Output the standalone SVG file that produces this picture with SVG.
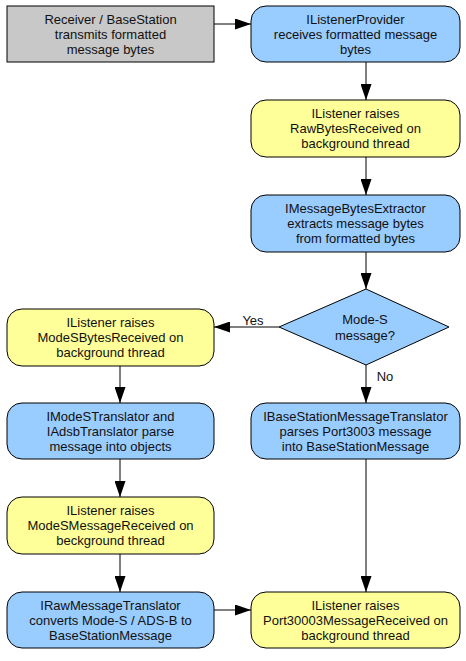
<svg xmlns="http://www.w3.org/2000/svg" width="466" height="661" viewBox="0 0 466 661">
<style>
.box{stroke:#000;stroke-width:1}
.grey{fill:#c8c8c8}
.blue{fill:#99ccff}
.yellow{fill:#ffff99}
text{font-family:"Liberation Sans",Arial,sans-serif;font-size:13px;fill:#111;text-anchor:middle}
.conn line{stroke:#000;stroke-width:1;marker-end:url(#arr)}
</style>
<defs>
<marker id="arr" markerUnits="userSpaceOnUse" markerWidth="16" markerHeight="11" refX="16" refY="5.5" orient="auto">
<path d="M0,0 L16,5.5 L0,11 z" fill="#000"/>
</marker>
</defs>
<rect width="466" height="661" fill="#fff"/>
<g class="conn" id="connectors">
<line x1="214" y1="24" x2="251" y2="24"/>
<line x1="366" y1="62" x2="366" y2="100"/>
<line x1="366" y1="157" x2="366" y2="195"/>
<line x1="366" y1="252" x2="366" y2="289"/>
<line x1="279" y1="327" x2="214" y2="327"/>
<line x1="366" y1="365" x2="366" y2="403"/>
<line x1="120" y1="366" x2="120" y2="403"/>
<line x1="120" y1="459" x2="120" y2="497"/>
<line x1="120" y1="554" x2="120" y2="592"/>
<line x1="214" y1="610" x2="251" y2="610"/>
<line x1="366" y1="459" x2="366" y2="592"/>
<text x="253" y="325">Yes</text>
<text x="385" y="381">No</text>
</g>
<g id="n1">
<rect class="box grey" x="7" y="6" width="207" height="56"/>
<text x="110.5" y="23.5">Receiver / BaseStation</text>
<text x="110.5" y="38.5">transmits formatted</text>
<text x="110.5" y="53.5">message bytes</text>
</g>
<g id="n2">
<rect class="box blue" x="251" y="6" width="209" height="56" rx="15"/>
<text x="355.5" y="23.5">IListenerProvider</text>
<text x="355.5" y="38.5">receives formatted message</text>
<text x="355.5" y="53.5">bytes</text>
</g>
<g id="n3">
<rect class="box yellow" x="251" y="100" width="209" height="57" rx="15"/>
<text x="355.5" y="118">IListener raises</text>
<text x="355.5" y="133">RawBytesReceived on</text>
<text x="355.5" y="148">background thread</text>
</g>
<g id="n4">
<rect class="box blue" x="251" y="195" width="209" height="57" rx="15"/>
<text x="355.5" y="213">IMessageBytesExtractor</text>
<text x="355.5" y="228">extracts message bytes</text>
<text x="355.5" y="243">from formatted bytes</text>
</g>
<g id="n5">
<polygon class="box blue" points="366,289 449,327 366,365 279,327"/>
<text x="365" y="323.5">Mode-S</text>
<text x="365" y="339.5">message?</text>
</g>
<g id="n6">
<rect class="box yellow" x="7" y="309" width="207" height="57" rx="15"/>
<text x="110.5" y="327">IListener raises</text>
<text x="110.5" y="342">ModeSBytesReceived on</text>
<text x="110.5" y="357">background thread</text>
</g>
<g id="n7">
<rect class="box blue" x="7" y="403" width="207" height="56" rx="15"/>
<text x="110.5" y="420.5">IModeSTranslator and</text>
<text x="110.5" y="435.5">IAdsbTranslator parse</text>
<text x="110.5" y="450.5">message into objects</text>
</g>
<g id="n8">
<rect class="box blue" x="251" y="403" width="209" height="56" rx="15"/>
<text x="355.5" y="420.5">IBaseStationMessageTranslator</text>
<text x="355.5" y="435.5">parses Port3003 message</text>
<text x="355.5" y="450.5">into BaseStationMessage</text>
</g>
<g id="n9">
<rect class="box yellow" x="7" y="497" width="207" height="57" rx="15"/>
<text x="110.5" y="515">IListener raises</text>
<text x="110.5" y="530">ModeSMessageReceived on</text>
<text x="110.5" y="545">beckground thread</text>
</g>
<g id="n10">
<rect class="box blue" x="7" y="592" width="207" height="56" rx="15"/>
<text x="110.5" y="609.5">IRawMessageTranslator</text>
<text x="110.5" y="624.5">converts Mode-S / ADS-B to</text>
<text x="110.5" y="639.5">BaseStationMessage</text>
</g>
<g id="n11">
<rect class="box yellow" x="251" y="592" width="209" height="56" rx="15"/>
<text x="355.5" y="609.5">IListener raises</text>
<text x="355.5" y="624.5">Port30003MessageReceived on</text>
<text x="355.5" y="639.5">background thread</text>
</g>
</svg>
